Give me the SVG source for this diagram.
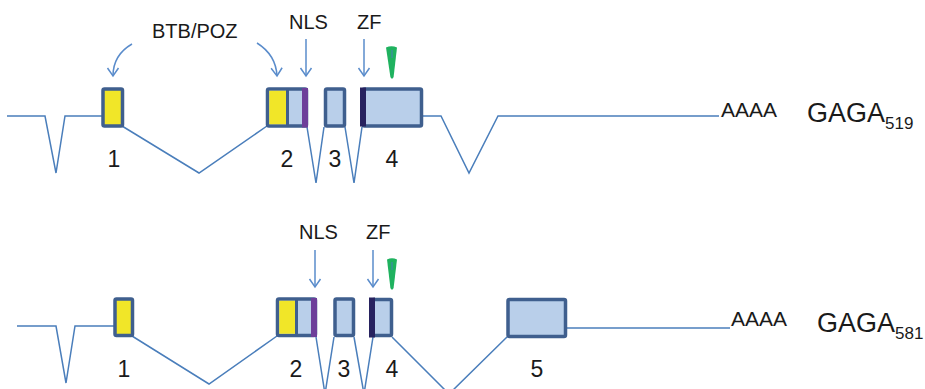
<svg xmlns="http://www.w3.org/2000/svg" width="925" height="389" viewBox="0 0 925 389">
  <style>
    .exon { stroke: #3f5f8e; stroke-width: 3.5; }
    .yel { fill: #f1e628; }
    .lb { fill: #b9cfea; }
    .pur { fill: #6d3f9a; }
    .navy { fill: #27225f; }
    .intron { fill: none; stroke: #4a7ebb; stroke-width: 1.5; stroke-linejoin: miter; }
    .arr { fill: none; stroke: #5a8ccb; stroke-width: 1.5; marker-end: url(#ah); }
    .green { fill: #1fb25f; }
    text { font-family: "Liberation Sans", Arial, sans-serif; fill: #1a1a1a; }
    .lbl { font-size: 20px; }
    .num { font-size: 23px; text-anchor: middle; }
    .aaaa { font-size: 21px; }
    .gaga { font-size: 27px; }
  </style>
  <defs>
    <marker id="ah" markerUnits="userSpaceOnUse" markerWidth="20" markerHeight="20" refX="0" refY="0" orient="auto" viewBox="-10 -10 20 20" overflow="visible">
      <path d="M-8,-5.5 L0,0 L-8,5.5" fill="none" stroke="#5a8ccb" stroke-width="1.5"/>
    </marker>
  </defs>

  <g id="connectors">
    <path class="intron" d="M7,116 H45 L56,173 L65,116 H103"/>
    <path class="intron" d="M122,126 L199,173 L267,126"/>
    <path class="intron" d="M307,127 L316,183 L324,127"/>
    <path class="intron" d="M345,127 L354,183 L362,127"/>
    <path class="intron" d="M421,116 H441 L469,173 L498,116 H719"/>
    <path class="intron" d="M17,326 H56 L66,383 L75,326 H115"/>
    <path class="intron" d="M132,336 L209,384 L277,336"/>
    <path class="intron" d="M316,337 L325,394 L334,337"/>
    <path class="intron" d="M354,337 L364,394 L373,337"/>
    <path class="intron" d="M392,337 L449,394 L507,337"/>
    <path class="intron" d="M565,328 H730"/>
    <path class="arr" d="M132,44 Q113,55 113,76"/>
    <path class="arr" d="M257,43 Q276,55 277,76"/>
    <path class="arr" d="M306,39 V76"/>
    <path class="arr" d="M364,39 V76"/>
    <path class="arr" d="M315,250 V287"/>
    <path class="arr" d="M373,250 V287"/>
  </g>

  <g id="e1-519">
    <rect class="exon yel" x="103" y="89" width="19.5" height="37" rx="1.5"/>
  </g>
  <g id="e2-519">
    <rect class="exon lb" x="267.5" y="89" width="39" height="37" rx="1.5"/>
    <rect class="yel" x="269.25" y="90.75" width="17" height="33.5"/>
    <line x1="287.5" y1="89" x2="287.5" y2="126" stroke="#3f5f8e" stroke-width="3"/>
    <rect class="pur" x="302" y="88" width="6" height="39.5"/>
  </g>
  <g id="e3-519">
    <rect class="exon lb" x="325.5" y="89" width="19" height="37" rx="1.5"/>
  </g>
  <g id="e4-519">
    <rect class="exon lb" x="363" y="89" width="58.5" height="37" rx="1.5"/>
    <rect class="navy" x="360" y="87.5" width="6" height="39"/>
  </g>
  <g id="labels-519">
    <text class="lbl" x="152" y="38">BTB/POZ</text>
    <text class="lbl" x="289" y="29">NLS</text>
    <text class="lbl" x="357" y="29">ZF</text>
    <text class="num" x="114" y="167">1</text>
    <text class="num" x="287" y="167">2</text>
    <text class="num" x="335" y="167">3</text>
    <text class="num" x="392" y="167">4</text>
    <text class="aaaa" x="721" y="117">AAAA</text>
    <text class="gaga" x="807" y="122">GAGA<tspan font-size="17" dy="7">519</tspan></text>
  </g>
  <g id="mark-519">
    <path class="green" d="M386,47.5 Q391.5,45 397,47.5 L393.6,77 Q392,80.5 390.4,77 Z"/>
    <line x1="392" y1="58" x2="392" y2="50" stroke="#4a7ebb" stroke-width="1"/>
  </g>

  <g id="e1-581">
    <rect class="exon yel" x="115" y="299" width="17.5" height="36.5" rx="1.5"/>
  </g>
  <g id="e2-581">
    <rect class="exon lb" x="277.5" y="299" width="38" height="36.5" rx="1.5"/>
    <rect class="yel" x="279.25" y="300.75" width="16" height="33"/>
    <line x1="296.5" y1="299" x2="296.5" y2="335.5" stroke="#3f5f8e" stroke-width="3"/>
    <rect class="pur" x="311" y="298" width="6" height="39"/>
  </g>
  <g id="e3-581">
    <rect class="exon lb" x="335" y="299" width="18.5" height="36.5" rx="1.5"/>
  </g>
  <g id="e4-581">
    <rect class="exon lb" x="372.5" y="299.5" width="19" height="36" rx="1.5"/>
    <rect class="navy" x="369" y="297.5" width="6" height="40"/>
  </g>
  <g id="e5-581">
    <rect class="exon lb" x="508" y="299.5" width="57.5" height="37" rx="1.5"/>
  </g>
  <g id="labels-581">
    <text class="lbl" x="299" y="239">NLS</text>
    <text class="lbl" x="366" y="239">ZF</text>
    <text class="num" x="124" y="377">1</text>
    <text class="num" x="296" y="377">2</text>
    <text class="num" x="344" y="377">3</text>
    <text class="num" x="392" y="377">4</text>
    <text class="num" x="537" y="377">5</text>
    <text class="aaaa" x="731" y="326">AAAA</text>
    <text class="gaga" x="817" y="332">GAGA<tspan font-size="17" dy="7">581</tspan></text>
  </g>
  <g id="mark-581">
    <path class="green" d="M387,259.5 Q392,257 397,259.5 L393.6,288 Q392,291.5 390.4,288 Z"/>
    <line x1="392" y1="270" x2="392" y2="262" stroke="#4a7ebb" stroke-width="1"/>
  </g>
</svg>
